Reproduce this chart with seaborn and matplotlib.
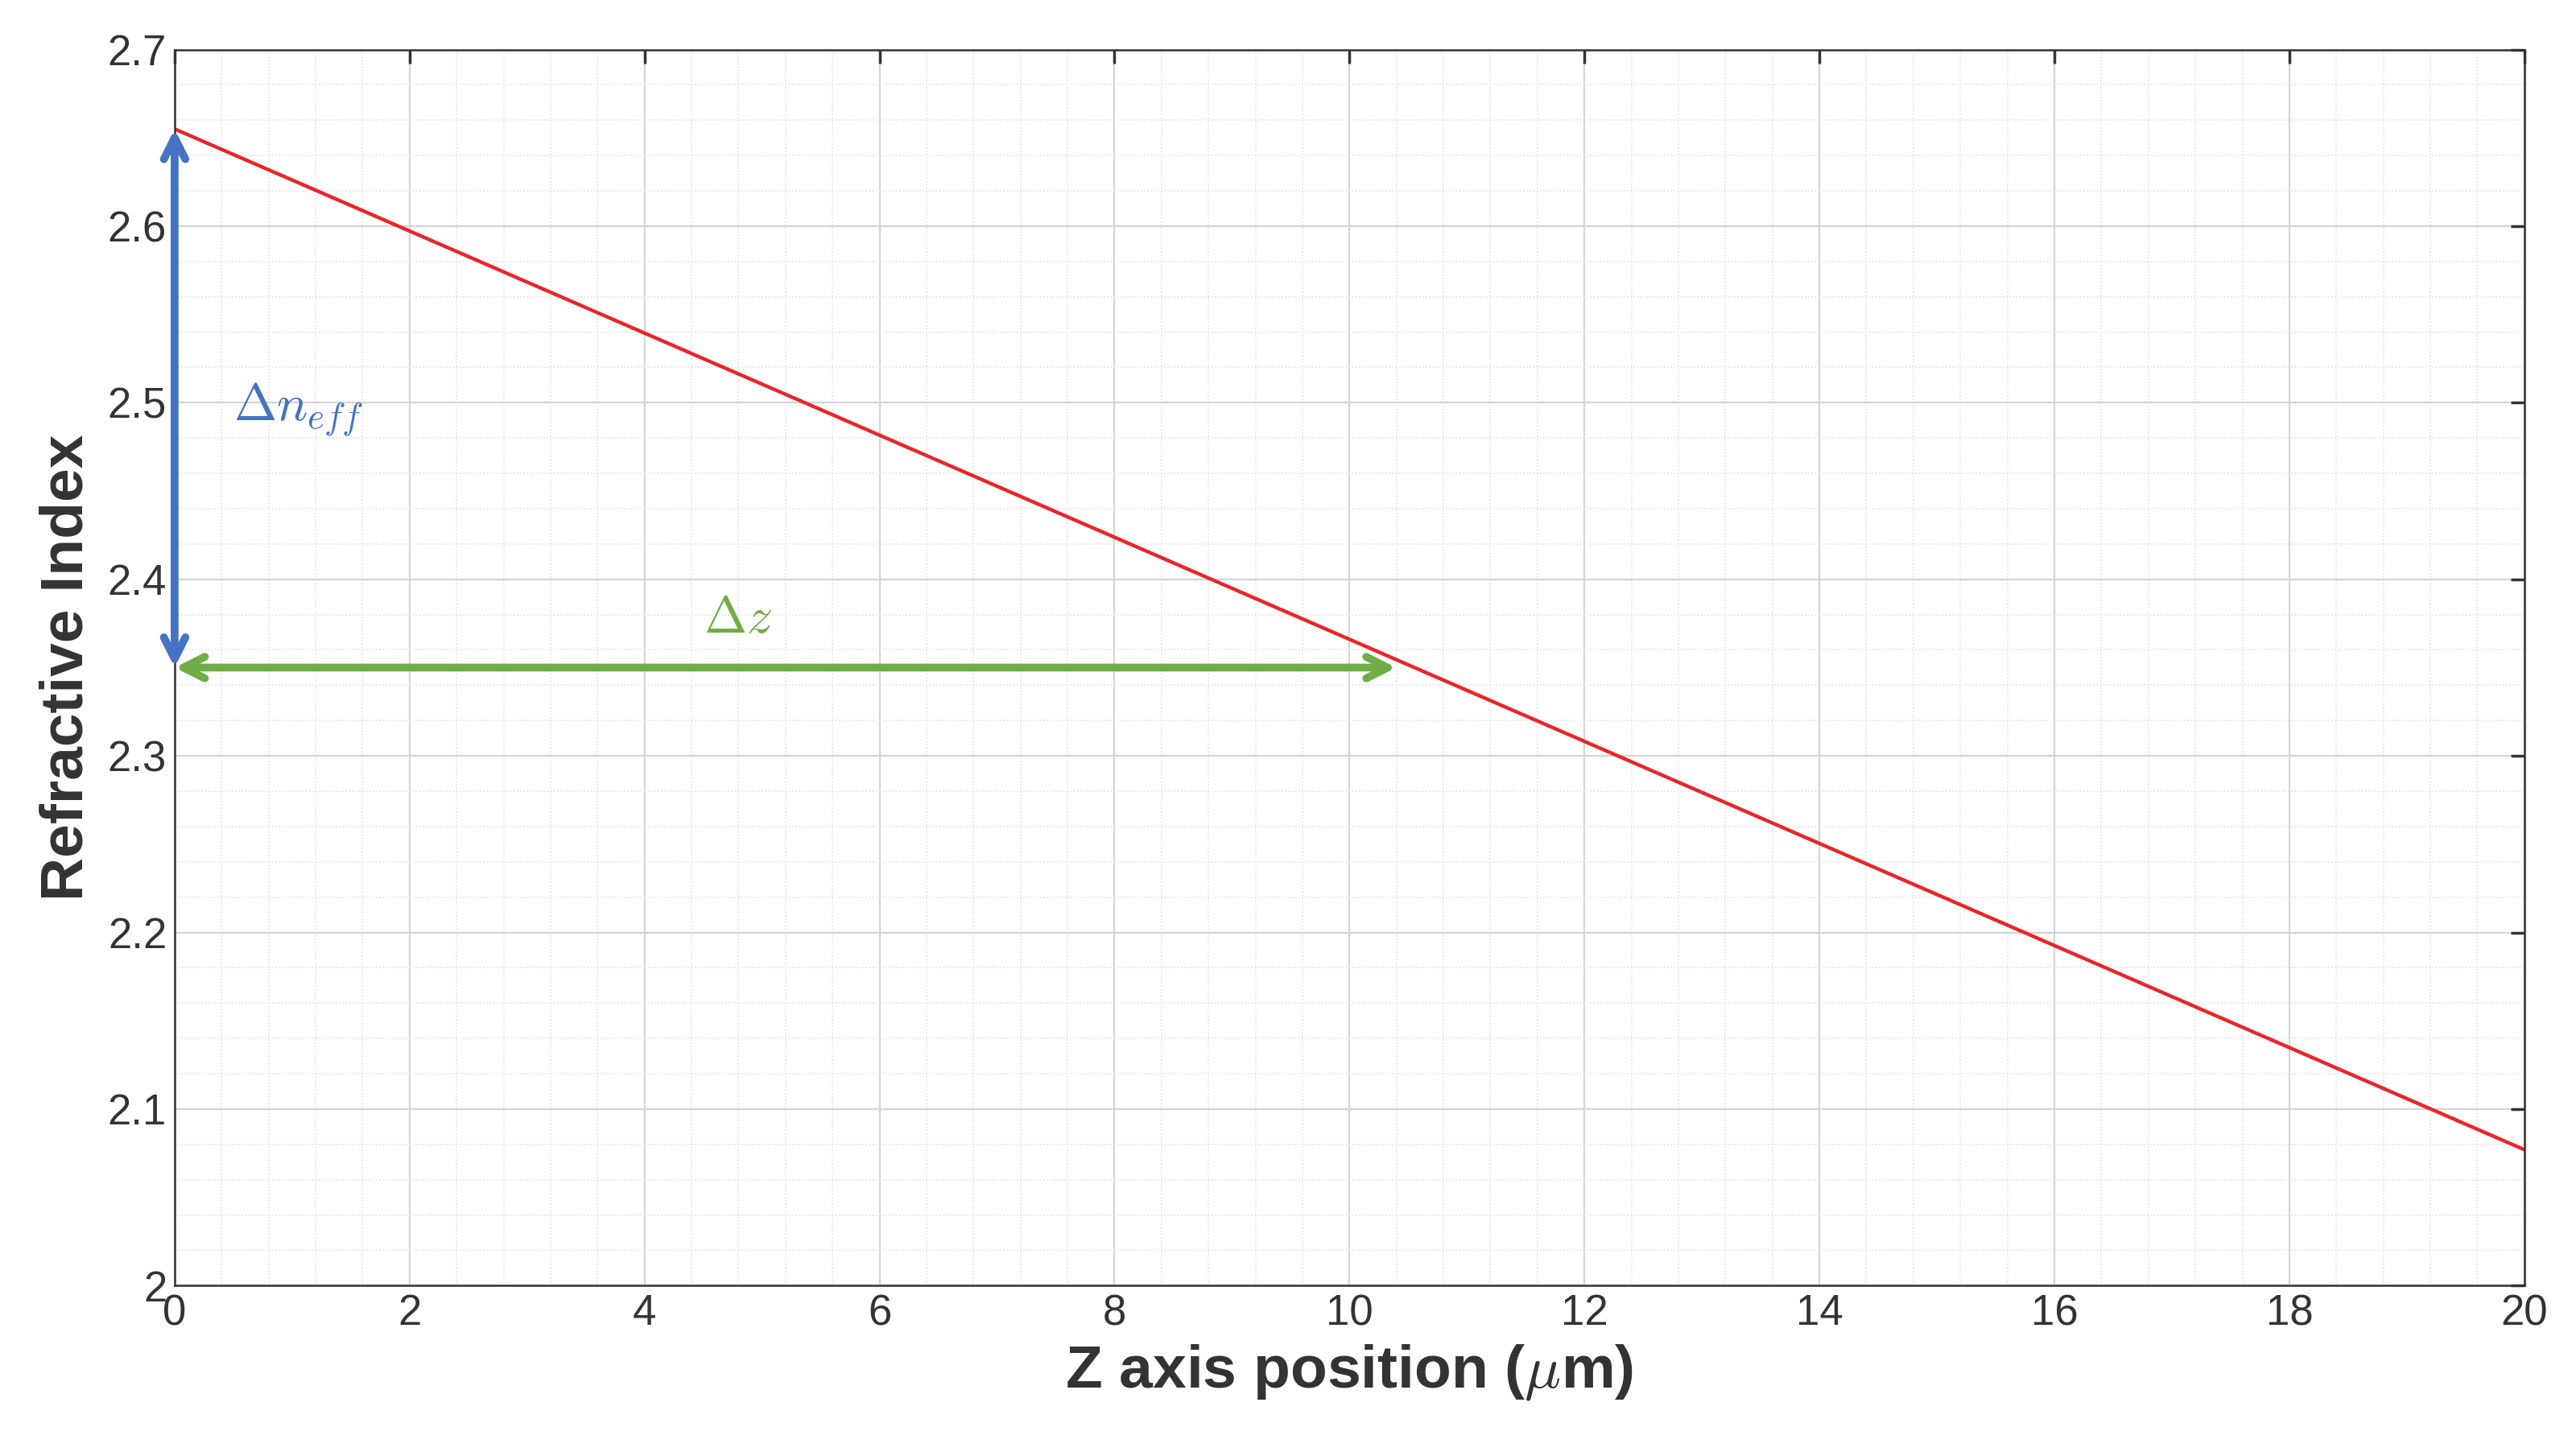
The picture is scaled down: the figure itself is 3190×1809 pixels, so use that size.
import matplotlib
matplotlib.use("Agg")
import matplotlib.pyplot as plt
import seaborn as sns
import pandas as pd
from matplotlib.ticker import MultipleLocator

z_pos = [0, 20]
n_index = [2.655, 2.077]
dn_x = 0
dn_range = [2.35, 2.655]
dz_y = 2.35
dz_range = [0, 10.4]

sns.set_theme(style="white")
plt.rcParams['font.family'] = ['Liberation Sans', 'DejaVu Sans']
plt.rcParams['mathtext.fontset'] = 'cm'

fig = plt.figure(figsize=(15.95, 9.045), dpi=200)
ax = fig.add_axes([0.068, 0.117, 0.915, 0.849])
df = pd.DataFrame({"z": z_pos, "n": n_index})
sns.lineplot(data=df, x="z", y="n", ax=ax, color="#e8262b", linewidth=1.6)

ax.set_xlim(0, 20)
ax.set_ylim(2.0, 2.7)
ax.xaxis.set_minor_locator(MultipleLocator(0.4))
ax.yaxis.set_minor_locator(MultipleLocator(0.02))
ax.set_xticks(range(0, 21, 2))
ax.set_xticklabels([str(v) for v in range(0, 21, 2)])
yt = [2.0, 2.1, 2.2, 2.3, 2.4, 2.5, 2.6, 2.7]
ax.set_yticks(yt)
ax.set_yticklabels(["2", "2.1", "2.2", "2.3", "2.4", "2.5", "2.6", "2.7"])
ax.grid(which="major", color="#d5d5d5", linewidth=0.8)
ax.grid(which="minor", color="#e2e2e2", linewidth=0.6, linestyle=(0, (1, 1.5)))
ax.tick_params(which="both", direction="in", top=True, right=True, labelsize=19, colors="#333333", length=6)
ax.tick_params(which="minor", length=0)
for s in ax.spines.values():
    s.set_color("#333333"); s.set_linewidth(0.9)

ax.set_xlabel(r"Z axis position ($\mu$m)", fontsize=27, fontweight="bold", color="#333333", labelpad=4)
ax.set_ylabel("Refractive Index", fontsize=27, fontweight="bold", color="#333333", labelpad=6)

ax.annotate("", xy=(dn_x, dn_range[1]), xytext=(dn_x, dn_range[0]),
            arrowprops=dict(arrowstyle="<->,head_length=0.8,head_width=0.4", color="#4472c4", lw=3.5, shrinkA=0, shrinkB=0))
ax.annotate("", xy=(dz_range[1], dz_y), xytext=(dz_range[0], dz_y),
            arrowprops=dict(arrowstyle="<->,head_length=0.8,head_width=0.4", color="#70ad47", lw=3.5, shrinkA=0, shrinkB=0))
ax.text(0.5, 2.49, r"$\Delta n_{eff}$", color="#4472c4", fontsize=23)
ax.text(4.5, 2.37, r"$\Delta z$", color="#70ad47", fontsize=23)

fig.savefig("out.png", dpi=200, facecolor="white")
